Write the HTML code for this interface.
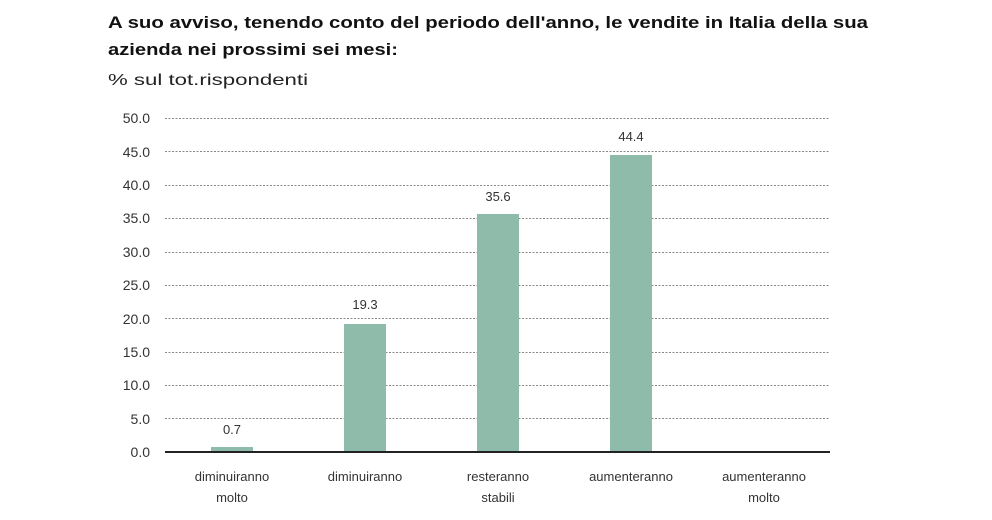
<!DOCTYPE html>
<html><head><meta charset="utf-8"><style>
html,body{margin:0;padding:0;background:#fff;}
svg{display:block;font-family:"Liberation Sans",sans-serif;}
</style></head><body>
<svg width="992" height="520" viewBox="0 0 992 520">
<text x="108" y="28" font-size="17" font-weight="bold" fill="#111" textLength="760" lengthAdjust="spacingAndGlyphs">A suo avviso, tenendo conto del periodo dell'anno, le vendite in Italia della sua</text>
<text x="108" y="55" font-size="17" font-weight="bold" fill="#111" textLength="290" lengthAdjust="spacingAndGlyphs">azienda nei prossimi sei mesi:</text>
<text x="108" y="85" font-size="16" fill="#222" textLength="200" lengthAdjust="spacingAndGlyphs">% sul tot.rispondenti</text>
<g stroke="#888" stroke-width="1" stroke-dasharray="2,1.5">
<line x1="165" x2="830" y1="118.5" y2="118.5"/>
<line x1="165" x2="830" y1="151.5" y2="151.5"/>
<line x1="165" x2="830" y1="185.5" y2="185.5"/>
<line x1="165" x2="830" y1="218.5" y2="218.5"/>
<line x1="165" x2="830" y1="252.5" y2="252.5"/>
<line x1="165" x2="830" y1="285.5" y2="285.5"/>
<line x1="165" x2="830" y1="318.5" y2="318.5"/>
<line x1="165" x2="830" y1="352.5" y2="352.5"/>
<line x1="165" x2="830" y1="385.5" y2="385.5"/>
<line x1="165" x2="830" y1="418.5" y2="418.5"/>
</g>
<g font-size="14" fill="#333" text-anchor="end">
<text x="150" y="123">50.0</text><text x="150" y="157">45.0</text><text x="150" y="190">40.0</text>
<text x="150" y="223">35.0</text><text x="150" y="257">30.0</text><text x="150" y="290">25.0</text>
<text x="150" y="324">20.0</text><text x="150" y="357">15.0</text><text x="150" y="390">10.0</text>
<text x="150" y="424">5.0</text><text x="150" y="457">0.0</text>
</g>
<g fill="#8fbbab">
<rect x="211" y="447" width="42" height="5"/>
<rect x="344" y="324" width="42" height="128"/>
<rect x="477" y="214" width="42" height="238"/>
<rect x="610" y="155" width="42" height="297"/>
</g>
<line x1="165" x2="830" y1="452" y2="452" stroke="#222" stroke-width="2"/>
<g font-size="13" fill="#333" text-anchor="middle">
<text x="232" y="434">0.7</text>
<text x="365" y="309">19.3</text>
<text x="498" y="201">35.6</text>
<text x="631" y="141">44.4</text>
</g>
<g font-size="13" fill="#333" text-anchor="middle">
<text x="232" y="481">diminuiranno</text><text x="232" y="502">molto</text>
<text x="365" y="481">diminuiranno</text>
<text x="498" y="481">resteranno</text><text x="498" y="502">stabili</text>
<text x="631" y="481">aumenteranno</text>
<text x="764" y="481">aumenteranno</text><text x="764" y="502">molto</text>
</g>
</svg>
</body></html>
